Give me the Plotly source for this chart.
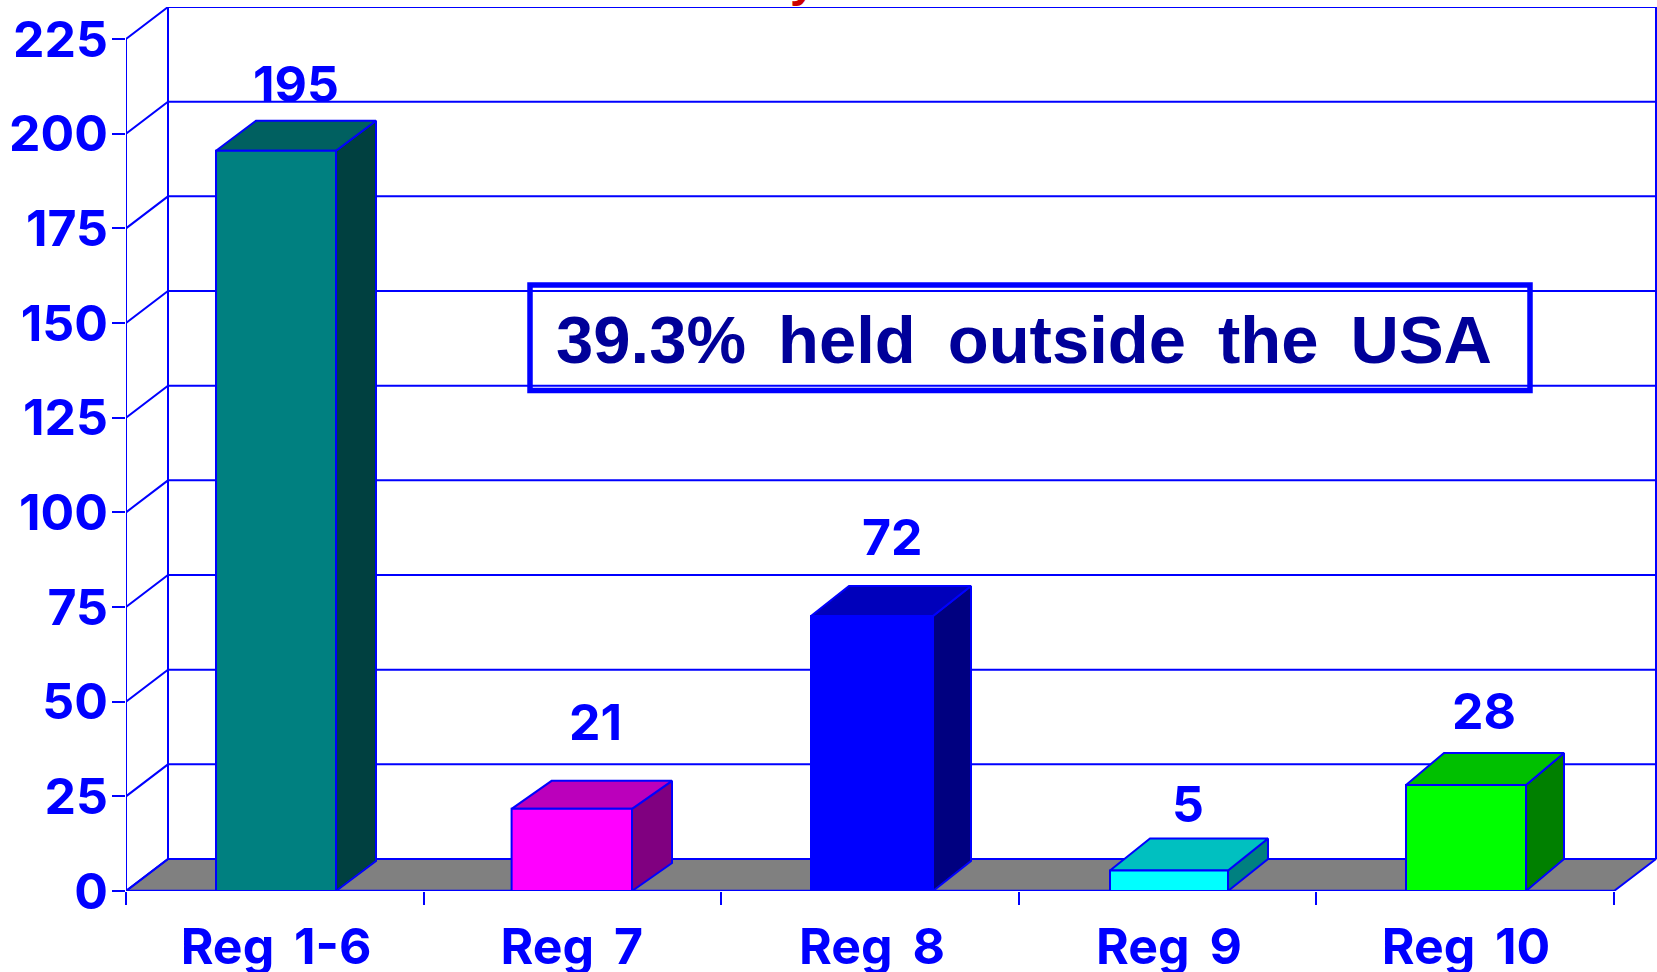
import plotly.graph_objects as go

# ---- data -----------------------------------------------------------
categories = ["Reg 1-6", "Reg 7", "Reg 8", "Reg 9", "Reg 10"]
bar_heights = [195.5, 21.7, 72.6, 5.4, 28.0]
bar_labels = ["195", "21", "72", "5", "28"]
y_ticks = [0, 25, 50, 75, 100, 125, 150, 175, 200, 225]
note_text = "39.3% \u2009held \u2009outside \u2009the \u2009USA"
front_colors = ["#008080", "#FF00FF", "#0000FF", "#00FFFF", "#00FF00"]
top_colors = ["#006060", "#BB00BB", "#0000BB", "#00C0C0", "#00C000"]
side_colors = ["#004040", "#800080", "#000080", "#008080", "#008000"]

# ---- layout constants -----------------------------------------------
W, H = 1657, 972
ML, MR, MT, MB = 126, 0, 7, 81
CAT_PX = 297.6
UNIT_PX = 3.787
BLUE = "#0000FF"
LW = 2
FONT = "Inter"
wall_dx, wall_dy = 42 / CAT_PX, 32 / UNIT_PX
xmax_axis = (W - ML - MR) / CAT_PX
wall_right = 5 + wall_dx
ymax_axis = y_ticks[-1] + wall_dy
lift_px = [67, 87, 79, 67, 74]
label_shift_px = [20, 24, 20, 19, 18]
bar_center_px = [276, 571.8, 872, 1169, 1466]
bar_width_px = [120, 120.4, 122, 118, 120]
bar_depth_x_px = [40, 40, 38, 40, 38]
bar_depth_y_px = [30, 28, 30, 32, 32]
centers = [(p - ML) / CAT_PX for p in bar_center_px]

fig = go.Figure()


def poly(xs, ys, fill=None, width=LW):
    fig.add_trace(go.Scatter(
        x=xs, y=ys, mode="lines", line=dict(color=BLUE, width=width),
        fill="toself" if fill else None, fillcolor=fill,
        hoverinfo="skip", showlegend=False, cliponaxis=False))


# floor
poly([0, wall_dx, wall_right, 5, 0], [0, wall_dy, wall_dy, 0, 0], fill="#808080")
# grid on the wall and side wall
for v in y_ticks:
    poly([0, wall_dx, wall_right], [v, v + wall_dy, v + wall_dy])
poly([wall_dx, wall_dx], [wall_dy, ymax_axis])
poly([wall_right, wall_right], [wall_dy, ymax_axis])
poly([0, 0], [0, y_ticks[-1]])
poly([0, 5], [0, 0], width=2.4)

# bars
for i, v in enumerate(bar_heights):
    c = centers[i]
    half = bar_width_px[i] / CAT_PX / 2
    dx, dy = bar_depth_x_px[i] / CAT_PX, bar_depth_y_px[i] / UNIT_PX
    l, r = c - half, c + half
    poly([r, r + dx, r + dx, r, r], [0, dy, v + dy, v, 0], fill=side_colors[i])
    poly([l, l + dx, r + dx, r, l], [v, v + dy, v + dy, v, v], fill=top_colors[i])
    poly([l, r, r, l, l], [0, 0, v, v, 0], fill=front_colors[i])

annotations = [
    dict(x=c, xshift=sh, y=v, yshift=lift, text=t, showarrow=False, xanchor="center",
         yanchor="middle", font=dict(family=FONT, size=50, color=BLUE, weight=700))
    for c, v, t, lift, sh in zip(centers, bar_heights, bar_labels, lift_px, label_shift_px)
]
# note
annotations.append(dict(
    xref="paper", yref="paper", x=(1024 - ML) / (W - ML), y=1 - (339 - MT) / (H - MT - MB),
    text=note_text, showarrow=False, xanchor="center", yanchor="middle",
    font=dict(family="Liberation Sans", size=67, color="#000099", weight=700)))
# the title above is cut off by the page; only the tail of one letter shows
annotations.append(dict(
    xref="paper", yref="paper", x=(803 - ML) / (W - ML), y=1, text="y", showarrow=False,
    xanchor="center", yanchor="bottom", yshift=-1,
    font=dict(family="Liberation Sans", size=48, color="#CC0000", weight=700)))

fig.update_layout(
    width=W, height=H, margin=dict(l=ML, r=MR, t=MT, b=MB, pad=0, autoexpand=False),
    paper_bgcolor="white", plot_bgcolor="white", showlegend=False,
    annotations=annotations,
    shapes=[dict(type="rect", xref="paper", yref="paper",
                 x0=(530 - ML) / (W - ML), x1=(1530 - ML) / (W - ML),
                 y0=1 - (390.5 - MT) / (H - MT - MB), y1=1 - (285 - MT) / (H - MT - MB),
                 line=dict(color=BLUE, width=5.5), fillcolor="rgba(0,0,0,0)", layer="above")],
    xaxis=dict(range=[0, xmax_axis], showgrid=False, zeroline=False, showline=False,
               automargin=False,
               tickmode="array", tickvals=centers,
               ticktext=[c.replace(" ", " \u2009") for c in categories],
               ticks="", ticklabelstandoff=22,
               tickfont=dict(family=FONT, size=50, color=BLUE, weight=700),
               minor=dict(tickmode="array", tickvals=[0, 1, 2, 3, 4, 5], ticks="outside",
                          ticklen=13, tickwidth=LW, tickcolor=BLUE)),
    yaxis=dict(range=[0, ymax_axis], showgrid=False, zeroline=False, showline=False,
               automargin=False,
               tickmode="array", tickvals=y_ticks, ticks="outside", ticklen=13,
               tickwidth=LW, tickcolor=BLUE, ticklabelstandoff=-6,
               tickfont=dict(family=FONT, size=50, color=BLUE, weight=700)),
)

fig.write_html("out.html", config={"displayModeBar": False},
               post_script="document.body.style.margin='0';document.body.style.overflow='hidden';")
